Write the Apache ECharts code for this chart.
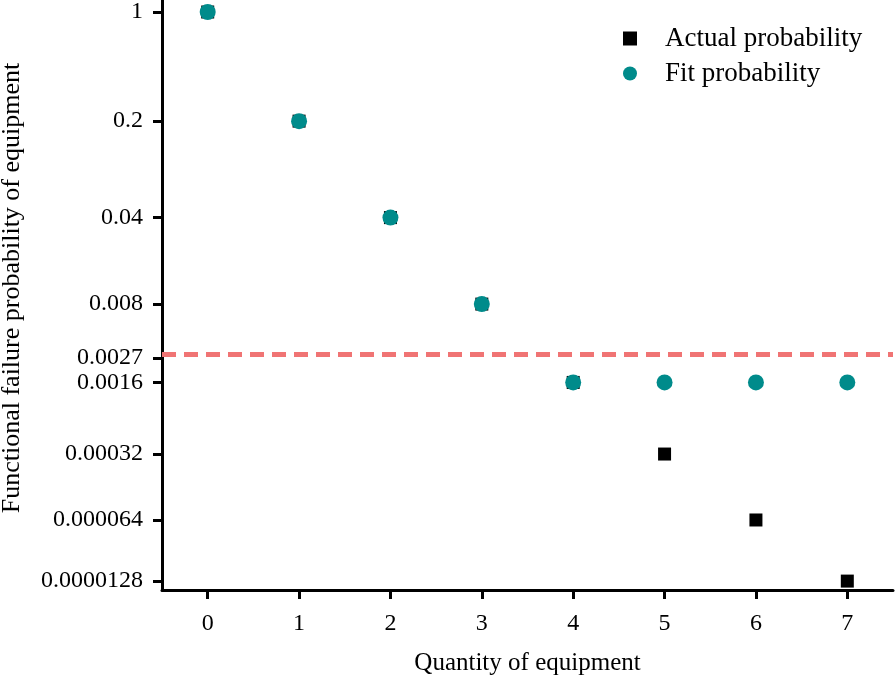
<!DOCTYPE html>
<html>
<head>
<meta charset="utf-8">
<script src="https://cdn.jsdelivr.net/npm/echarts@6/dist/echarts.min.js"></script>
<style>html,body{margin:0;padding:0;background:#fff}#c{width:895px;height:676px}</style>
</head>
<body>
<div id="c"></div>
<script>
var quantities = [0, 1, 2, 3, 4, 5, 6, 7];
var actualProb = [1, 0.2, 0.04, 0.008, 0.0016, 0.00032, 0.000064, 0.0000128];
var fitProb = [1, 0.2, 0.04, 0.008, 0.0016, 0.0016, 0.0016, 0.0016];
var threshold = 0.0027;
var yTickValues = [1, 0.2, 0.04, 0.008, 0.0027, 0.0016, 0.00032, 0.000064, 0.0000128];
var yTickLabels = ['1', '0.2', '0.04', '0.008', '0.0027', '0.0016', '0.00032', '0.000064', '0.0000128'];

// axis transform of the reference's compressed log scale
function tf(p) { return Math.log(1 + 0.2 * (-Math.log10(p))); }

var tickPos = yTickValues.map(tf);
var labelMap = {};
tickPos.forEach(function (v, i) { labelMap[v.toFixed(6)] = yTickLabels[i]; });

var FONT = '"Liberation Serif", "Times New Roman", serif';
var chart = echarts.init(document.getElementById('c'));
chart.setOption({
  animation: false,
  grid: { left: 162, right: 2, top: 0, bottom: 86, containLabel: false, outerBoundsMode: 'none' },
  legend: {
    orient: 'vertical',
    left: 618, top: 20,
    itemWidth: 14, itemHeight: 14, itemGap: 8,
    textStyle: { fontFamily: FONT, fontSize: 27, color: '#000', lineHeight: 27, padding: [0, 0, 0, 23] },
    data: ['Actual probability', 'Fit probability']
  },
  xAxis: {
    type: 'value', min: -0.5, max: 7.5, position: 'bottom',
    name: 'Quantity of equipment', nameLocation: 'middle', nameGap: 61,
    nameTextStyle: { fontFamily: FONT, fontSize: 25, color: '#000' },
    axisLine: { show: true, onZero: false, lineStyle: { color: '#000', width: 3 } },
    axisTick: { show: true, length: 9, lineStyle: { color: '#000', width: 3 }, customValues: quantities },
    axisLabel: { fontFamily: FONT, fontSize: 24, color: '#000', margin: 22, customValues: quantities },
    splitLine: { show: false }
  },
  yAxis: {
    type: 'value', inverse: true, min: -12 / 834, max: 578 / 834, position: 'left',
    name: 'Functional failure probability of equipment', nameLocation: 'middle', nameGap: 137,
    nameTextStyle: { fontFamily: FONT, fontSize: 26, color: '#000', padding: [0, 0, 0, 14] },
    axisLine: { show: true, onZero: false, lineStyle: { color: '#000', width: 3 } },
    axisTick: { show: true, length: 9, lineStyle: { color: '#000', width: 3 }, customValues: tickPos },
    axisLabel: {
      fontFamily: FONT, fontSize: 24, color: '#000', margin: 19, customValues: tickPos,
      formatter: function (v) { return labelMap[v.toFixed(6)] || ''; }
    },
    splitLine: { show: false }
  },
  series: [
    {
      name: 'Actual probability', type: 'scatter', symbol: 'rect', symbolSize: 13,
      itemStyle: { color: '#000', opacity: 1 },
      data: quantities.map(function (q, i) { return [q, tf(actualProb[i])]; }),
      markLine: {
        silent: true, symbol: 'none', label: { show: false },
        lineStyle: { color: '#f07474', width: 5, type: [14, 8], opacity: 1 },
        data: [{ yAxis: tf(threshold) }]
      },
      z: 2
    },
    {
      name: 'Fit probability', type: 'scatter', symbol: 'circle', symbolSize: 16,
      itemStyle: { color: '#008b8b', opacity: 1 },
      data: quantities.map(function (q, i) { return [q, tf(fitProb[i])]; }),
      z: 3
    }
  ]
});
</script>
</body>
</html>
